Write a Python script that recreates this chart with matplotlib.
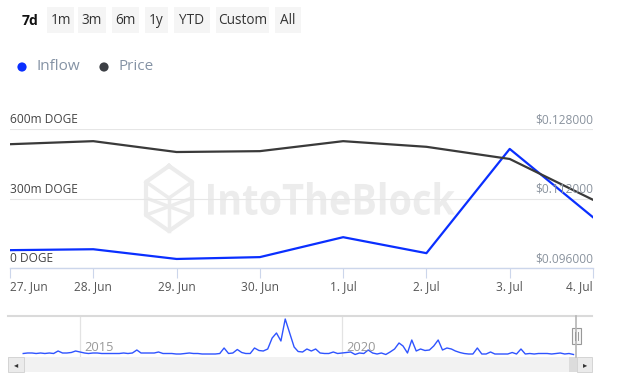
import numpy as np
import pandas as pd
import matplotlib
matplotlib.use("Agg")
import matplotlib.pyplot as plt
from matplotlib.patches import Rectangle, PathPatch, Circle
from matplotlib.lines import Line2D
from matplotlib.textpath import TextPath
from matplotlib.font_manager import FontProperties
from matplotlib.transforms import Affine2D

plt.rcParams['font.family'] = ['Open Sans', 'DejaVu Sans']

# ---- data ----
dates = ["27. Jun", "28. Jun", "29. Jun", "30. Jun", "1. Jul", "2. Jul", "3. Jul", "4. Jul"]
inflow_m = [77, 81, 39, 47, 133, 64, 514, 219]          # millions of DOGE
price = [0.1245, 0.1252, 0.1227, 0.1229, 0.1252, 0.1239, 0.1211, 0.1117]

left_ticks = [0, 300, 600]
left_labels = ["0 DOGE", "300m DOGE", "600m DOGE"]
right_ticks = [0.096, 0.112, 0.128]
right_labels = ["$0.096000", "$0.112000", "$0.128000"]

buttons = ["1m", "3m", "6m", "1y", "YTD", "Custom", "All"]

# navigator (monthly, relative scale) from Dec 2013
nav_start = "2013-12-01"
nav_inflow = [1.5,
              2, 2, 1.5, 2, 1.5, 2, 1.5, 4, 2, 2, 2.5, 4,
              3, 2, 1.5, 2, 2, 1.5, 1.5, 1.5, 1.5, 1.5, 2, 1.5,
              2, 5, 2, 2, 2, 2, 3, 1.5, 1.5, 1.5, 1, 1,
              1.5, 2, 1.5, 1.5, 1, 1, 1, 1, 1.5, 7, 1.5, 2,
              5.5, 2.5, 1.5, 1.5, 7, 4.5, 4, 6, 17, 22, 14, 36,
              22, 8, 3.5, 3, 6, 4, 6, 2, 1.5, 1.5, 3, 1.5,
              2, 2.5, 3, 0.5, 2, 1.5, 5, 2, 1, 2, 0.5, 3,
              6, 12, 9, 2, 15, 4, 6, 4.5, 5, 9, 15, 5,
              7, 6, 4, 2.5, 1.5, 1, 1, 7, 1, 1, 3, 1,
              1, 1, 1, 2.5, 1, 6, 1, 1.5, 1, 1.5, 1.5, 1.5,
              1, 1.5, 2, 1, 1.5, 0.5]
nav_years = ["2015", "2020"]

W, H = 618, 388
fig = plt.figure(figsize=(W / 100, H / 100), dpi=100)


def fx(px):
    return px / W


def fy(py):
    return 1 - py / H


# pixel -> figure transform for decorations
pix = Affine2D().scale(1 / W, -1 / H).translate(0, 1) + fig.transFigure

# ---- range buttons ----
fig.text(fx(30), fy(21), "7d", ha="center", va="center", fontsize=10, fontweight="bold", color="#111111")
btn_x = [(47, 74), (78, 106), (112, 139), (145, 168), (174, 210), (216, 269), (275, 301)]
for (x0, x1), lab in zip(btn_x, buttons):
    fig.patches.append(Rectangle((x0, 7), x1 - x0, 26, transform=pix, facecolor="#f5f5f5",
                                 edgecolor="none"))
    fig.text(fx((x0 + x1) / 2), fy(21), lab, ha="center", va="center", fontsize=9.8, color="#333333")

# ---- legend ----
fig.patches.append(Circle((22, 67), 4.6, transform=pix, facecolor="#0a2fff", edgecolor="none"))
fig.text(fx(37), fy(66), "Inflow", ha="left", va="center", fontsize=11, color="#8593a5")
fig.patches.append(Circle((104, 67), 4.6, transform=pix, facecolor="#3c3f44", edgecolor="none"))
fig.text(fx(119), fy(66), "Price", ha="left", va="center", fontsize=11, color="#8593a5")

# ---- watermark ----
wm = "#ececec"
tp = TextPath((0, 0), "IntoTheBlock", size=100, prop=FontProperties(family="Open Sans", weight="bold"))
bb = tp.get_extents()
tr = Affine2D().translate(-bb.x0, -bb.y0).scale(247 / bb.width, -33 / bb.height).translate(208, 215)
fig.patches.append(PathPatch(tr.transform_path(tp), transform=pix, facecolor=wm, edgecolor="none", zorder=-1))
hexv = [(169, 166), (192, 182), (192, 215), (169, 231), (146, 215), (146, 182), (169, 166)]
fig.lines.append(Line2D([p[0] for p in hexv], [p[1] for p in hexv], transform=pix, color=wm, lw=3, zorder=-1))
for seg in [((146, 182), (169, 198)), ((192, 182), (169, 198)), ((169, 198), (169, 231)),
            ((146, 198), (192, 215)), ((192, 198), (146, 215))]:
    fig.lines.append(Line2D([seg[0][0], seg[1][0]], [seg[0][1], seg[1][1]], transform=pix,
                            color=wm, lw=2.5, zorder=-1))

# ---- main chart ----
ax = fig.add_axes([fx(10), fy(268), fx(583), 139 / H])
ax.patch.set_visible(False)
x = np.arange(len(dates))
ax.set_xlim(0, len(dates) - 1)
ax.set_ylim(0, 600)
for s in ["top", "left", "right"]:
    ax.spines[s].set_visible(False)
ax.spines["bottom"].set_color("#ccd6eb")
ax.spines["bottom"].set_linewidth(1)
ax.set_yticks(left_ticks)
ax.grid(axis="y", color="#e6e6e6", lw=0.8)
ax.set_xticks(x)
ax.set_xticklabels(dates)
ax.tick_params(axis="x", direction="out", length=7.5, width=0.8, color="#ccd6eb",
               labelsize=8.6, labelcolor="#555555", pad=1)
lbls = ax.get_xticklabels()
lbls[0].set_ha("left")
lbls[-1].set_ha("right")
ax.plot(x, inflow_m, color="#0a2fff", lw=1.6, zorder=3)
for v, t in zip(left_ticks, left_labels):
    ax.annotate(t, (0, v), xycoords=ax.get_yaxis_transform(), xytext=(0, 2), textcoords="offset points",
                ha="left", va="bottom", fontsize=8.6, color="#444444")

ax2 = ax.twinx()
ax2.set_ylim(0.096, 0.128)
for s in ["top", "left", "right", "bottom"]:
    ax2.spines[s].set_visible(False)
ax2.set_yticks([])
ax.tick_params(axis="y", which="both", left=False, right=False, labelleft=False, labelright=False)
ax2.plot(x, price, color="#3a3a3a", lw=1.6, zorder=2)
for v, t in zip(right_ticks, right_labels):
    ax2.annotate(t, (1, v), xycoords=ax2.get_yaxis_transform(), xytext=(0, 2), textcoords="offset points",
                 ha="right", va="bottom", fontsize=8.6, color="#8a939e")

# ---- navigator ----
nav = fig.add_axes([fx(8), fy(357), fx(584), 41 / H])
nav.patch.set_visible(False)
nd = pd.date_range(nav_start, periods=len(nav_inflow), freq="MS")
nav.plot(nd, nav_inflow, color="#2f54ff", lw=1.0)
nav.set_xlim(pd.Timestamp("2013-08-17"), pd.Timestamp("2024-10-08"))
nav.set_ylim(-2, 39)
for s in ["top", "left", "right", "bottom"]:
    nav.spines[s].set_visible(False)
nav.set_yticks([])
nav.set_xticks([])
for y in nav_years:
    d = pd.Timestamp(y + "-01-01")
    nav.axvline(d, color="#e3e3e3", lw=0.9, zorder=0)
    nav.annotate(y, (d, 0), xycoords=("data", "axes fraction"), xytext=(3, 2), textcoords="offset points",
                 ha="left", va="bottom", fontsize=9.3, color="#999999")

# navigator outline, scrollbar and handle
fig.lines.append(Line2D([8, 592], [316, 316], transform=pix, color="#dadada", lw=1.5))
fig.patches.append(Rectangle((8, 357), 584, 15, transform=pix, facecolor="#f2f2f2", edgecolor="none"))
fig.patches.append(Rectangle((8, 357), 16, 15, transform=pix, facecolor="#ebebeb", edgecolor="#d0d0d0", lw=0.6))
fig.patches.append(Rectangle((569, 357), 8, 15, transform=pix, facecolor="#dcdcdc", edgecolor="none"))
fig.patches.append(Rectangle((577, 357), 15, 15, transform=pix, facecolor="#ebebeb", edgecolor="#d0d0d0", lw=0.6))
fig.text(fx(16), fy(365), "\u25c2", ha="center", va="center", fontsize=6, color="#333333",
         family="DejaVu Sans")
fig.text(fx(585), fy(365), "\u25b8", ha="center", va="center", fontsize=6, color="#333333",
         family="DejaVu Sans")
fig.lines.append(Line2D([576, 576], [316, 357], transform=pix, color="#b5b5b5", lw=1.2))
fig.patches.append(Rectangle((572, 328), 9, 16, transform=pix, facecolor="#f7f7f7", edgecolor="#999999", lw=0.8))
for hx in [575, 578]:
    fig.lines.append(Line2D([hx, hx], [332, 340], transform=pix, color="#999999", lw=0.7))

fig.savefig("out.png", dpi=100)
